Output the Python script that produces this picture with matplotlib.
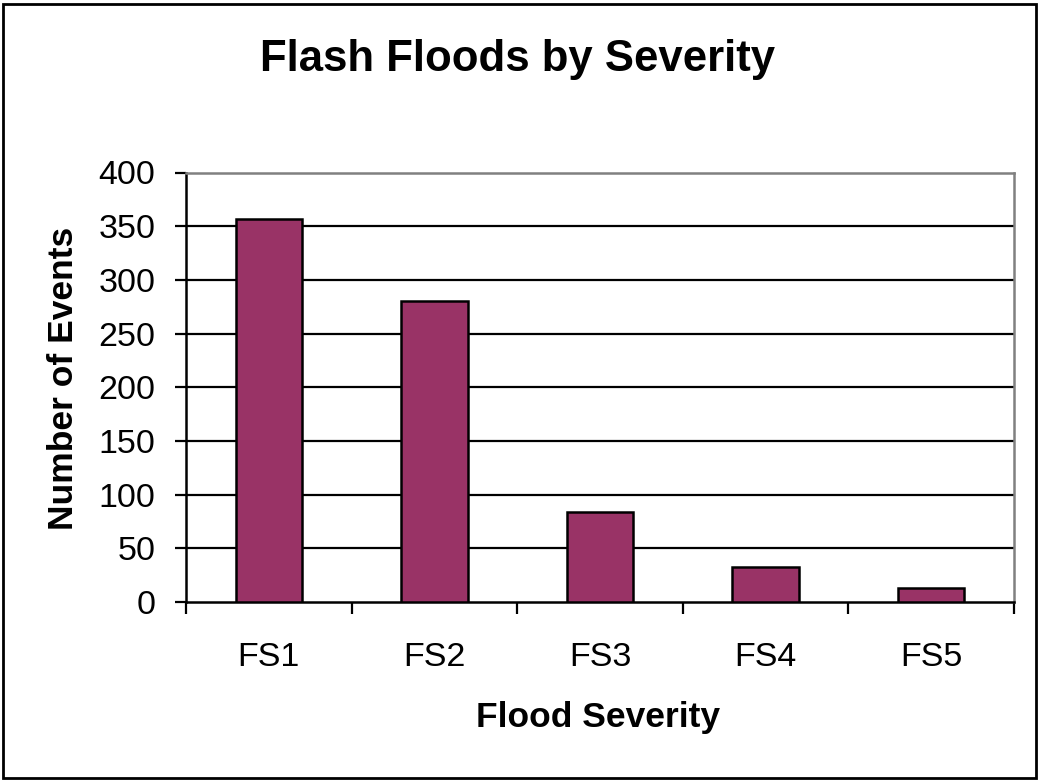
import matplotlib
matplotlib.use("Agg")
import matplotlib.pyplot as plt
from matplotlib.patches import Rectangle

plt.rcParams["font.family"] = ["Liberation Sans", "DejaVu Sans"]

# Flash flood counts per severity class
categories = ["FS1", "FS2", "FS3", "FS4", "FS5"]
events = [357, 280, 84, 33, 13]
y_ticks = [0, 50, 100, 150, 200, 250, 300, 350, 400]

fig = plt.figure(figsize=(10.38, 7.80), dpi=100)
ax = fig.add_axes([186 / 1038, 1 - 602 / 780, 828 / 1038, 429.5 / 780])

# gridlines behind the bars
for v in y_ticks[1:-1]:
    ax.axhline(v, color="black", linewidth=1.6, zorder=1)

x = list(range(len(categories)))
ax.bar(x, events, width=0.4, color="#993366", edgecolor="black", linewidth=1.8, zorder=3)

ax.set_xlim(-0.5, len(categories) - 0.5)
ax.set_ylim(0, 400)
ax.set_yticks(y_ticks)
ax.set_yticklabels([str(v) for v in y_ticks], fontsize=24.5)
ax.tick_params(axis="y", direction="out", length=8, width=1.6, pad=14)

# category labels at centres, tick marks between categories
ax.set_xticks(x)
ax.set_xticklabels(categories, fontsize=24.5)
ax.set_xticks([i - 0.5 for i in range(len(categories) + 1)], minor=True)
ax.tick_params(axis="x", which="major", length=0, pad=29)
ax.tick_params(axis="x", which="minor", direction="out", length=8.5, width=1.6)

for side in ["left", "bottom"]:
    ax.spines[side].set_color("black")
    ax.spines[side].set_linewidth(1.8)
for side in ["top", "right"]:
    ax.spines[side].set_color("#808080")
    ax.spines[side].set_linewidth(1.8)

fig.text(518 / 1038, 1 - 60 / 780, "Flash Floods by Severity", fontsize=31.5,
         fontweight="bold", ha="center", va="center")
fig.text(598 / 1038, 1 - 718 / 780, "Flood Severity", fontsize=25.5,
         fontweight="bold", ha="center", va="center")
fig.text(64 / 1038, 1 - 378 / 780, "Number of Events", fontsize=25.5,
         fontweight="bold", ha="center", va="center", rotation=90)

# outer chart frame
fig.patches.append(Rectangle((2.5 / 1038, 2.5 / 780), 1033 / 1038, 774 / 780,
                             transform=fig.transFigure, fill=False,
                             edgecolor="black", linewidth=2))

fig.savefig("out.png", dpi=100)
